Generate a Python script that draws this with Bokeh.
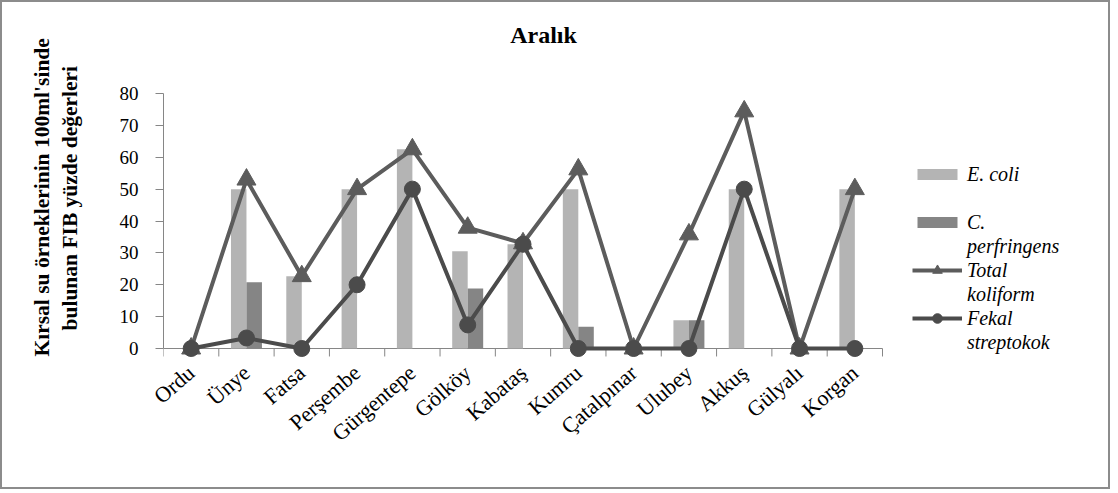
import numpy as np
from math import radians

from bokeh.plotting import figure
from bokeh.models import (ColumnDataSource, FixedTicker, Range1d, Title,
                          Legend, LegendItem, Label)
from bokeh.embed import file_html
from bokeh.resources import INLINE

# Sampling sites (December)
categories = ["Ordu", "Ünye", "Fatsa", "Perşembe", "Gürgentepe", "Gölköy",
              "Kabataş", "Kumru", "Çatalpınar", "Ulubey", "Akkuş", "Gülyalı",
              "Korgan"]

# Percentage of rural water samples (per 100 ml) with FIB
e_coli = [0, 50, 22.7, 50, 62.5, 30.5, 32.7, 50, 0, 8.9, 50, 0, 50]
c_perfringens = [0, 20.8, 0, 0, 0, 18.8, 0, 6.8, 0, 8.9, 0, 0, 0]
total_koliform = [0, 53, 22.7, 50, 62.5, 37.9, 33, 56.2, 0, 35.8, 74.4, 0, 50]
fekal_streptokok = [0, 3.3, 0, 20, 50, 7.4, 32.7, 0, 0, 0, 50, 0, 0]

y_ticks = [0, 10, 20, 30, 40, 50, 60, 70, 80]

FONT = "Liberation Serif"
AXIS_GREY = "#868686"

n = len(categories)
xc = np.arange(n) + 0.5
bar_w = 0.28
tick_len = 2.5  # boundary tick length in y units

# canvas geometry: the plot frame also hosts the title and the legend,
# the category area covers the first PLOT_W pixels of it
W, H = 1110, 489
LEFT, BOTTOM = 161, 127
PLOT_W = 719
PX_PER_Y = 255 / 80
y_lo = -(16 / PX_PER_Y)
y_hi = 80 + 91 / PX_PER_Y
x_hi = n * (W - LEFT) / PLOT_W

src = ColumnDataSource(dict(
    x=xc, x_ec=xc - bar_w / 2, x_cp=xc + bar_w / 2,
    ecoli=e_coli, cperf=c_perfringens,
    total=total_koliform, fekal=fekal_streptokok,
))
bounds = np.arange(n + 1)
tick_src = ColumnDataSource(dict(x=bounds, y0=np.zeros(n + 1),
                                 y1=np.full(n + 1, -tick_len)))

p = figure(width=W, height=H, output_backend="svg", toolbar_location=None,
           x_range=Range1d(0, x_hi), y_range=Range1d(y_lo, y_hi),
           min_border_left=LEFT, min_border_right=0,
           min_border_top=0, min_border_bottom=BOTTOM,
           styles={"border": "2px solid #8c8c8c"})
p.xgrid.visible = False
p.ygrid.visible = False
p.outline_line_color = None
p.background_fill_color = "white"
p.border_fill_color = "white"

# category axis line at zero and boundary ticks
p.segment(x0=0, x1=n, y0=0, y1=0, line_color=AXIS_GREY, line_width=1,
          level="underlay")
p.segment(x0="x", x1="x", y0="y0", y1="y1", source=tick_src,
          line_color=AXIS_GREY, line_width=1, level="underlay")

# bars
r_ec = p.vbar(x="x_ec", top="ecoli", bottom=0, width=bar_w, source=src,
              fill_color="#b4b4b4", line_color=None)
r_cp = p.vbar(x="x_cp", top="cperf", bottom=0, width=bar_w, source=src,
              fill_color="#858585", line_color=None)

# lines with markers
tk_col = "#5c5c5c"
fs_col = "#4b4b4b"
r_tk_l = p.line("x", "total", source=src, line_color=tk_col, line_width=4)
r_tk_m = p.scatter("x", "total", source=src, marker="triangle", size=19,
                   fill_color=tk_col, line_color=tk_col)
r_fs_l = p.line("x", "fekal", source=src, line_color=fs_col, line_width=4)
r_fs_m = p.scatter("x", "fekal", source=src, marker="circle", size=16,
                   fill_color=fs_col, line_color=fs_col)

# empty renderer used for the wrapped second lines of legend labels
r_wrap = p.scatter(x=[], y=[], size=0, fill_alpha=0, line_alpha=0)

# x axis: only the site names
xa = p.xaxis[0]
xa.ticker = FixedTicker(ticks=list(xc))
xa.major_label_overrides = {float(v): c for v, c in zip(xc, categories)}
xa.axis_line_color = None
xa.major_tick_line_color = None
xa.minor_tick_line_color = None
xa.major_tick_out = 0
xa.major_tick_in = 0
xa.major_label_orientation = radians(41)
xa.major_label_standoff = 5
xa.major_label_text_font = FONT
xa.major_label_text_font_size = "22px"
xa.major_label_text_color = "black"

# y axis
ya = p.yaxis[0]
ya.ticker = FixedTicker(ticks=y_ticks)
ya.bounds = (0, 80)
ya.axis_line_color = AXIS_GREY
ya.major_tick_line_color = AXIS_GREY
ya.major_tick_out = 8
ya.major_tick_in = 0
ya.minor_tick_line_color = None
ya.major_label_standoff = 17
ya.major_label_text_font = FONT
ya.major_label_text_font_size = "19px"
ya.major_label_text_color = "black"

# y axis title on two lines, kept clear of the tick labels by a blank row
ytitle_style = dict(text_font=FONT, text_font_style="bold",
                    text_font_size="21.5px", text_color="black")
p.add_layout(Title(text=" ", align="left", standoff=7, **ytitle_style), "left")
for txt, off, so in [("bulunan FIB yüzde değerleri", 34, 3),
                     ("Kırsal su örneklerinin 100ml'sinde", 8, 2)]:
    p.add_layout(Title(text=txt, align="left", offset=off, standoff=so,
                       **ytitle_style), "left")

# chart title
p.add_layout(Label(x=380, y=330, x_units="screen", y_units="screen",
                   text="Aralık", text_align="center", text_baseline="middle",
                   text_font=FONT, text_font_style="bold",
                   text_font_size="24px", text_color="black"))

# legends: bar series and line series (second lines of wrapped labels
# are separate rows)
legend_style = dict(orientation="vertical", border_line_color=None,
                    background_fill_alpha=0, padding=0, margin=0, spacing=0,
                    glyph_width=50, label_height=24, label_standoff=5,
                    label_text_font=FONT, label_text_font_style="italic",
                    label_text_font_size="20px", label_text_color="black")
legend_bars = Legend(items=[
    LegendItem(label="E. coli", renderers=[r_ec]),
    LegendItem(label=" ", renderers=[r_wrap]),
    LegendItem(label="C.", renderers=[r_cp]),
    LegendItem(label="perfringens", renderers=[r_wrap]),
], location=(749, 106), glyph_height=14, **legend_style)
legend_lines = Legend(items=[
    LegendItem(label="Total", renderers=[r_tk_l, r_tk_m]),
    LegendItem(label="koliform", renderers=[r_wrap]),
    LegendItem(label="Fekal", renderers=[r_fs_l, r_fs_m]),
    LegendItem(label="streptokok", renderers=[r_wrap]),
], location=(749, 10), glyph_height=24, **legend_style)
p.add_layout(legend_bars)
p.add_layout(legend_lines)

open("out.html", "w").write(file_html(p, INLINE))
